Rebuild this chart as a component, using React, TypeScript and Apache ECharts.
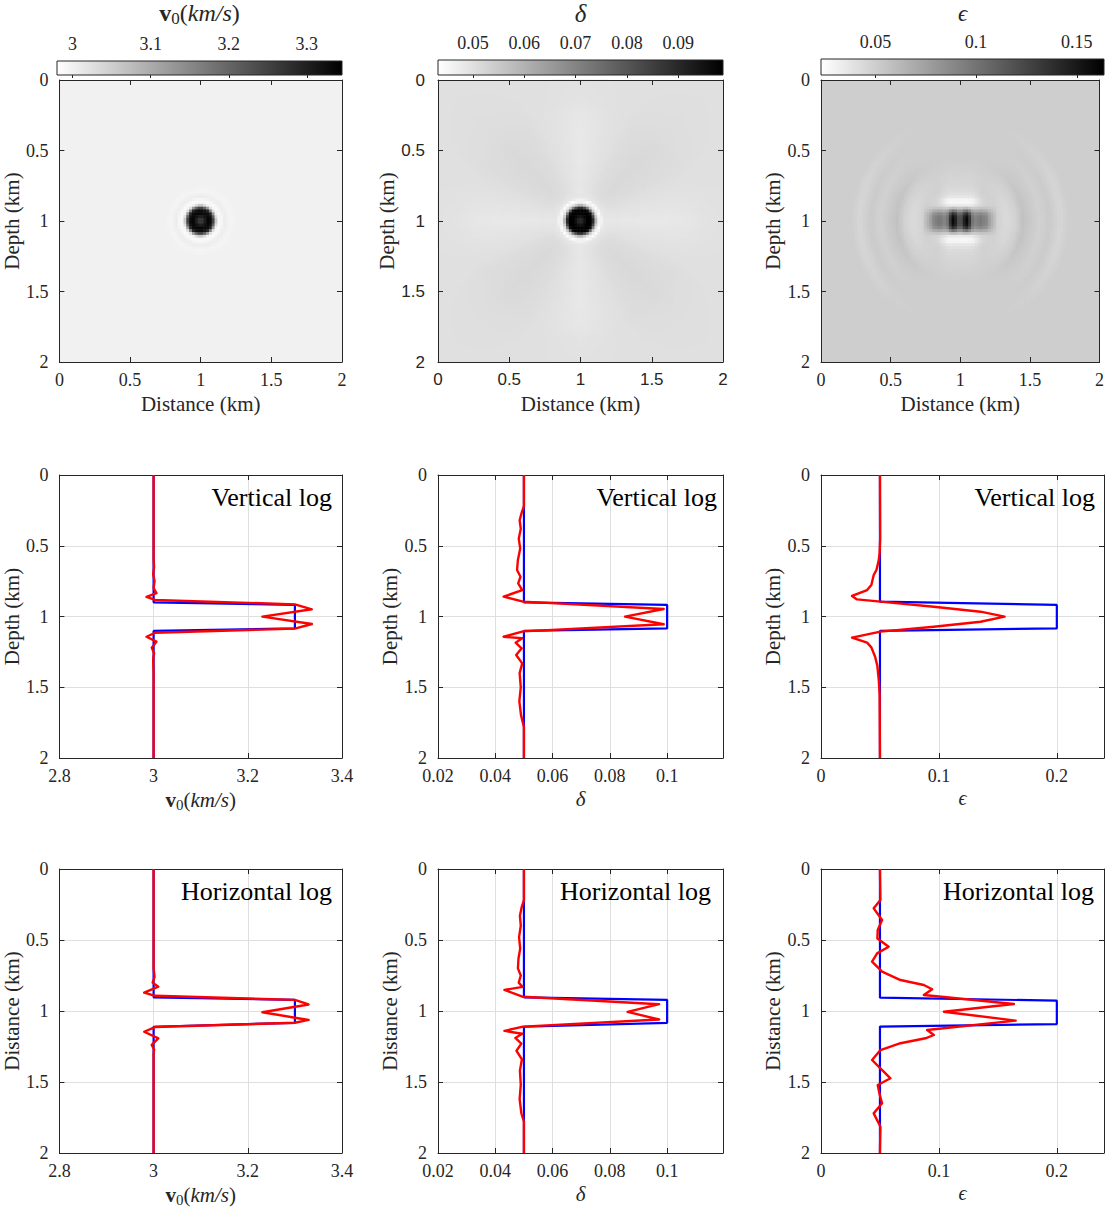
import React, { useEffect, useRef } from "react";
import * as echarts from "echarts";

const SERIF = "'Liberation Serif', 'DejaVu Serif', serif";
const SANS = "'Liberation Sans', Arial, sans-serif";
const INK = "#262626";
const GRID_LINE = "#dfdfdf";
const BLUE = "#0000ff";
const RED = "#ff0000";

// ---------- axis ranges ----------
const depthRange = [0, 2];
const depthInterval = 0.5;
const v0AxisRange = [2.8, 3.4];
const v0AxisInterval = 0.2;
const deltaAxisRange = [0.02, 0.1195];
const deltaAxisInterval = 0.02;
const epsAxisRange = [0, 0.24];
const epsAxisInterval = 0.1;

// ---------- colorbars ----------
const v0ColorRange = [2.98, 3.345];
const v0ColorTicks = [3, 3.1, 3.2, 3.3];
const deltaColorRange = [0.0432, 0.0987];
const deltaColorTicks = [0.05, 0.06, 0.07, 0.08, 0.09];
const epsColorRange = [0.023, 0.1635];
const epsColorTicks = [0.05, 0.1, 0.15];

// ---------- image models ----------
const IMG_CELL = 0.02;
const IMG_N = 100;
const IMG_CENTER = [1.0, 1.0];

// v0: radial profile
const v0ImgR = [0, 0.03, 0.05, 0.07, 0.085, 0.1, 0.117, 0.138, 0.17, 0.21, 0.26];
const v0ImgV = [3.24, 3.3, 3.336, 3.33, 3.3, 3.15, 3.0, 2.985, 3.006, 2.996, 3.0];
const v0Background = 3.0;

// delta: radial profile + angular cross / diagonal modulation
const deltaImgR = [0, 0.03, 0.05, 0.07, 0.085, 0.1, 0.117, 0.14, 0.16, 0.2, 0.26];
const deltaImgV = [0.087, 0.095, 0.0988, 0.099, 0.097, 0.075, 0.05, 0.0435, 0.0485, 0.0495, 0.05];
const deltaEnvR = [0, 0.15, 0.22, 0.35, 0.6, 0.75, 0.85, 1.0, 1.5];
const deltaEnvW = [0, 0, 0.8, 1, 1, 0.8, 0.4, 0.2, 0];
const deltaAngDeg = [0, 15, 30, 45];
const deltaAngV = [-0.0018, -0.0006, 0.0008, 0.0015];
const deltaBackground = 0.05;

// epsilon: horizontal band, white bands above/below, side arcs
const epsBandX = [0, 0.02, 0.045, 0.07, 0.09, 0.11, 0.15, 0.19, 0.22, 0.27];
const epsBandDev = [0.06, 0.085, 0.116, 0.085, 0.05, 0.042, 0.048, 0.04, 0.02, 0];
const epsBandZ = [0, 0.03, 0.05, 0.07, 0.1];
const epsBandZW = [1, 0.95, 0.8, 0.45, 0];
const epsRingZ = [0.08, 0.1, 0.125, 0.145, 0.165, 0.2, 0.25, 0.35, 0.45];
const epsRingDev = [0, -0.012, -0.022, -0.024, -0.015, -0.008, -0.005, -0.002, 0];
const epsRingX = [0, 0.08, 0.12, 0.16, 0.25];
const epsRingXW = [1, 1, 0.6, 0.2, 0];
const epsArcR = [0.25, 0.3, 0.34, 0.4, 0.45, 0.5, 0.57, 0.64, 0.72, 0.78, 0.85];
const epsArcDev = [0, -0.005, -0.007, -0.002, 0.007, 0.003, -0.002, 0.002, -0.005, 0, 0];
const epsArcAng = [0, 20, 40, 55, 70, 90];
const epsArcW = [1, 0.85, 0.45, 0.15, 0.03, 0];
const epsBackground = 0.05;

// ---------- logs: v0 ----------
const v0VertBlueDepth = [0, 0.9, 0.918, 1.084, 1.102, 2];
const v0VertBlueVal = [3.0, 3.0, 3.3, 3.3, 3.0, 3.0];
const v0VertRedDepth = [0, 0.6, 0.65, 0.7, 0.75, 0.8, 0.835, 0.862, 0.883, 0.914, 0.949, 1.001, 1.053, 1.086, 1.115, 1.143, 1.178, 1.22, 1.26, 1.3, 1.4, 2];
const v0VertRedVal = [3.0, 3.0, 3.001, 2.999, 3.002, 3.0, 3.006, 2.985, 3.003, 3.3, 3.336, 3.231, 3.336, 3.3, 3.003, 2.985, 3.006, 2.996, 3.001, 2.999, 3.0, 3.0];

const v0HorBlueDepth = [0, 0.904, 0.922, 1.083, 1.111, 2];
const v0HorBlueVal = [3.0, 3.0, 3.3, 3.3, 3.0, 3.0];
const v0HorRedDepth = [0, 0.7, 0.76, 0.8, 0.829, 0.871, 0.893, 0.922, 0.954, 1.009, 1.063, 1.083, 1.113, 1.146, 1.193, 1.239, 1.27, 1.3, 2];
const v0HorRedVal = [3.0, 3.0, 3.002, 2.998, 3.01, 2.98, 3.003, 3.3, 3.329, 3.231, 3.329, 3.3, 3.003, 2.98, 3.01, 2.996, 3.001, 3.0, 3.0];

// ---------- logs: delta ----------
const dVertBlueDepth = [0, 0.9, 0.918, 1.084, 1.102, 2];
const dVertBlueVal = [0.05, 0.05, 0.1, 0.1, 0.05, 0.05];
const dVertRedDepth = [0, 0.22, 0.26, 0.32, 0.38, 0.45, 0.52, 0.6, 0.671, 0.719, 0.766, 0.813, 0.86, 0.895, 0.947, 1.001, 1.055, 1.105, 1.143, 1.154, 1.185, 1.225, 1.272, 1.331, 1.4, 1.5, 1.6, 1.7, 1.78, 2];
const dVertRedVal = [0.05, 0.05, 0.0493, 0.0485, 0.0489, 0.0482, 0.0487, 0.0479, 0.0476, 0.0488, 0.048, 0.0494, 0.0429, 0.0497, 0.0988, 0.0853, 0.0988, 0.0497, 0.0429, 0.0494, 0.0471, 0.0492, 0.0473, 0.0494, 0.0485, 0.0489, 0.0484, 0.049, 0.05, 0.05];

const dHorBlueDepth = [0, 0.904, 0.922, 1.083, 1.111, 2];
const dHorBlueVal = [0.05, 0.05, 0.1, 0.1, 0.05, 0.05];
const dHorRedDepth = [0, 0.22, 0.27, 0.33, 0.4, 0.48, 0.56, 0.63, 0.7, 0.75, 0.8, 0.83, 0.852, 0.9, 0.952, 1.006, 1.06, 1.11, 1.14, 1.16, 1.19, 1.23, 1.28, 1.34, 1.42, 1.52, 1.62, 1.72, 1.78, 2];
const dHorRedVal = [0.05, 0.05, 0.0492, 0.0486, 0.0489, 0.0483, 0.0487, 0.0481, 0.0479, 0.0489, 0.0482, 0.0495, 0.0432, 0.0497, 0.0972, 0.0862, 0.0972, 0.0497, 0.0432, 0.0494, 0.047, 0.0491, 0.0474, 0.0493, 0.0486, 0.0489, 0.0485, 0.0491, 0.05, 0.05];

// ---------- logs: epsilon ----------
const eVertBlueDepth = [0, 0.895, 0.918, 1.084, 1.102, 2];
const eVertBlueVal = [0.05, 0.05, 0.2, 0.2, 0.05, 0.05];
const eVertRedDepth = [0, 0.45, 0.55, 0.601, 0.671, 0.707, 0.777, 0.813, 0.855, 0.879, 0.895, 0.931, 0.966, 1.001, 1.037, 1.072, 1.107, 1.149, 1.185, 1.218, 1.284, 1.35, 1.449, 1.55, 2];
const eVertRedVal = [0.05, 0.0502, 0.0497, 0.049, 0.047, 0.0447, 0.0427, 0.0391, 0.0263, 0.0306, 0.0504, 0.0957, 0.1353, 0.1557, 0.1353, 0.0957, 0.0504, 0.0263, 0.0391, 0.0427, 0.0459, 0.0478, 0.049, 0.0497, 0.05];

const eHorBlueDepth = [0, 0.906, 0.927, 1.092, 1.11, 2];
const eHorBlueVal = [0.05, 0.05, 0.2, 0.2, 0.05, 0.05];
const eHorRedDepth = [0, 0.218, 0.277, 0.359, 0.43, 0.49, 0.547, 0.594, 0.653, 0.723, 0.782, 0.817, 0.847, 0.887, 0.951, 1.005, 1.068, 1.134, 1.169, 1.192, 1.227, 1.275, 1.345, 1.404, 1.474, 1.521, 1.58, 1.65, 1.721, 1.815, 2];
const eHorRedVal = [0.05, 0.0504, 0.0447, 0.0518, 0.0481, 0.0478, 0.0574, 0.0476, 0.0433, 0.0518, 0.0674, 0.0872, 0.0943, 0.0872, 0.1636, 0.1042, 0.1651, 0.09, 0.0957, 0.0886, 0.0674, 0.0504, 0.0433, 0.0504, 0.0589, 0.0481, 0.0495, 0.0518, 0.0447, 0.0504, 0.05];

// ---------- layout ----------
const COLS = [
  { left: 57, width: 285 },
  { left: 438, width: 285 },
  { left: 821, width: 283 },
];
const ROW_IMG = { top: 80, height: 282 };
const ROW_V = { top: 475, height: 283 };
const ROW_H = { top: 869, height: 284 };
const CBAR = { top: 59, height: 16 };

// ---------- helpers ----------
function interp(xs: number[], ys: number[], x: number): number {
  if (x <= xs[0]) return ys[0];
  const n = xs.length;
  if (x >= xs[n - 1]) return ys[n - 1];
  for (let i = 1; i < n; i++) {
    if (x <= xs[i]) {
      const t = (x - xs[i - 1]) / (xs[i] - xs[i - 1]);
      return ys[i - 1] + t * (ys[i] - ys[i - 1]);
    }
  }
  return ys[n - 1];
}
function grayOf(v: number, r: number[]): string {
  const t = Math.min(1, Math.max(0, (v - r[0]) / (r[1] - r[0])));
  const g = Math.round(255 * (1 - t));
  return `rgb(${g},${g},${g})`;
}
const pairs = (vals: number[], depths: number[]) => vals.map((v, i) => [v, depths[i]]);

function v0Field(x: number, z: number): number {
  const r = Math.hypot(x - IMG_CENTER[0], z - IMG_CENTER[1]);
  return interp(v0ImgR, v0ImgV, r);
}
function deltaField(x: number, z: number): number {
  const dx = Math.abs(x - IMG_CENTER[0]);
  const dz = Math.abs(z - IMG_CENTER[1]);
  const r = Math.hypot(dx, dz);
  let a = (Math.atan2(dz, dx) * 180) / Math.PI;
  if (a > 45) a = 90 - a;
  return interp(deltaImgR, deltaImgV, r) + interp(deltaEnvR, deltaEnvW, r) * interp(deltaAngDeg, deltaAngV, a);
}
function epsField(x: number, z: number): number {
  const dx = Math.abs(x - IMG_CENTER[0]);
  const dz = Math.abs(z - IMG_CENTER[1]);
  const r = Math.hypot(dx, dz);
  const a = (Math.atan2(dz, dx) * 180) / Math.PI;
  return (
    epsBackground +
    interp(epsBandX, epsBandDev, dx) * interp(epsBandZ, epsBandZW, dz) +
    interp(epsRingZ, epsRingDev, dz) * interp(epsRingX, epsRingXW, dx) +
    interp(epsArcR, epsArcDev, r) * interp(epsArcAng, epsArcW, a)
  );
}

const v0Rich = (size: number) => ({
  b: { fontFamily: SERIF, fontWeight: "bold", fontSize: size, color: INK },
  s: { fontFamily: SERIF, fontSize: Math.round(size * 0.7), padding: [Math.round(size * 0.45), 0, 0, 0], color: INK },
  n: { fontFamily: SERIF, fontSize: size, color: INK },
  i: { fontFamily: SERIF, fontStyle: "italic", fontSize: size, color: INK },
});
const V0_NAME = "{b|v}{s|0}{n|(}{i|km/s}{n|)}";

const TICK_SIZE = 18;
const NAME_SIZE = 21;

function buildOption() {
  const grid: any[] = [];
  const xAxis: any[] = [];
  const yAxis: any[] = [];
  const series: any[] = [];
  const visualMap: any[] = [];
  const graphic: any[] = [];
  const addGrid = (g: any) => (grid.push(g), grid.length - 1);
  const addX = (a: any) => (xAxis.push(a), xAxis.length - 1);
  const addY = (a: any) => (yAxis.push(a), yAxis.length - 1);

  const valAxis = (
    gridIndex: number,
    position: string,
    range: number[],
    interval: number,
    o: { labels?: boolean; split?: boolean; inverse?: boolean; font?: string; fontSize?: number; name?: string; nameGap?: number; nameStyle?: any; z?: number; hideMax?: boolean; margin?: number }
  ) => ({
    type: "value",
    gridIndex,
    position,
    min: range[0],
    max: range[1],
    interval,
    inverse: !!o.inverse,
    z: o.z ?? 0,
    axisLine: { show: true, onZero: false, lineStyle: { color: INK, width: 1 } },
    axisTick: { show: true, inside: true, length: 5, lineStyle: { color: INK, width: 1 } },
    axisLabel: {
      show: !!o.labels,
      fontFamily: o.font || SERIF,
      fontSize: o.fontSize ?? TICK_SIZE,
      color: INK,
      margin: o.margin ?? 9,
      showMaxLabel: o.hideMax ? false : true,
    },
    splitLine: { show: !!o.split, lineStyle: { color: GRID_LINE, width: 1 } },
    name: o.name,
    nameLocation: "middle",
    nameGap: o.nameGap ?? 32,
    nameTextStyle: o.nameStyle || { fontFamily: SERIF, fontSize: NAME_SIZE, color: INK },
  });

  // ---------- top row: images ----------
  const cellIdx = Array.from({ length: IMG_N }, (_, i) => String(i));
  const images = [
    { col: 0, field: v0Field, range: v0ColorRange, bg: v0Background, font: SERIF, fs: TICK_SIZE },
    { col: 1, field: deltaField, range: deltaColorRange, bg: deltaBackground, font: SANS, fs: 17 },
    { col: 2, field: epsField, range: epsColorRange, bg: epsBackground, font: SERIF, fs: TICK_SIZE },
  ];
  images.forEach((im) => {
    const c = COLS[im.col];
    const g = addGrid({
      left: c.left,
      top: ROW_IMG.top,
      width: c.width,
      height: ROW_IMG.height,
      show: true,
      backgroundColor: grayOf(im.bg, im.range),
      borderWidth: 0,
    });
    addX(valAxis(g, "bottom", depthRange, depthInterval, { labels: true, font: im.font, fontSize: im.fs, name: "Distance (km)", nameGap: 31, z: 5 }));
    addX(valAxis(g, "top", depthRange, depthInterval, { z: 5 }));
    const catX = addX({ type: "category", gridIndex: g, data: cellIdx, show: false });
    addY(valAxis(g, "left", depthRange, depthInterval, { labels: true, inverse: true, font: im.font, fontSize: im.fs, name: "Depth (km)", nameGap: 36, z: 5, margin: im.col === 1 ? 13 : 11 }));
    addY(valAxis(g, "right", depthRange, depthInterval, { inverse: true, z: 5 }));
    const catY = addY({ type: "category", gridIndex: g, data: cellIdx, show: false, inverse: true });

    const thr = (im.range[1] - im.range[0]) * 0.003;
    const data: number[][] = [];
    for (let i = 0; i < IMG_N; i++) {
      for (let j = 0; j < IMG_N; j++) {
        const x = (i + 0.5) * IMG_CELL;
        const z = (j + 0.5) * IMG_CELL;
        let v = im.field(x, z);
        v = Math.min(im.range[1], Math.max(im.range[0], v));
        if (Math.abs(v - im.bg) > thr) data.push([i, j, v]);
      }
    }
    series.push({
      type: "heatmap",
      xAxisIndex: catX,
      yAxisIndex: catY,
      data,
      progressive: 0,
      silent: true,
      emphasis: { disabled: true },
      itemStyle: { borderWidth: 0 },
    });
    visualMap.push({
      type: "continuous",
      show: false,
      seriesIndex: series.length - 1,
      dimension: 2,
      min: im.range[0],
      max: im.range[1],
      inRange: { color: ["#ffffff", "#000000"] },
    });
  });

  // ---------- colorbars ----------
  const bars = [
    { col: 0, range: v0ColorRange, ticks: v0ColorTicks, name: V0_NAME, style: { rich: v0Rich(24) } },
    { col: 1, range: deltaColorRange, ticks: deltaColorTicks, name: "δ", style: { fontFamily: SERIF, fontStyle: "italic", fontSize: 25, color: INK } },
    { col: 2, range: epsColorRange, ticks: epsColorTicks, name: "ϵ", style: { fontFamily: SERIF, fontStyle: "italic", fontSize: 23, color: INK } },
  ];
  bars.forEach((b) => {
    const c = COLS[b.col];
    const g = addGrid({
      left: c.left,
      top: CBAR.top,
      width: c.width,
      height: CBAR.height,
      show: true,
      borderColor: INK,
      borderWidth: 1,
      backgroundColor: new echarts.graphic.LinearGradient(0, 0, 1, 0, [
        { offset: 0, color: "#ffffff" },
        { offset: 1, color: "#000000" },
      ]),
    });
    addX({
      type: "value",
      gridIndex: g,
      position: "top",
      min: b.range[0],
      max: b.range[1],
      axisLine: { show: false },
      axisTick: { show: true, inside: true, length: 3, customValues: b.ticks, lineStyle: { color: INK } },
      axisLabel: { customValues: b.ticks, fontFamily: SERIF, fontSize: TICK_SIZE, color: INK, margin: 8 },
      splitLine: { show: false },
      name: b.name,
      nameLocation: "middle",
      nameGap: 34,
      nameTextStyle: b.style,
    });
    addY({ type: "value", gridIndex: g, show: false, min: 0, max: 1 });
  });

  // ---------- logs ----------
  const deltaStyle = { fontFamily: SERIF, fontStyle: "italic", fontSize: 21, color: INK };
  const epsStyle = { fontFamily: SERIF, fontStyle: "italic", fontSize: 20, color: INK };
  const logs = [
    { col: 0, row: ROW_V, xr: v0AxisRange, xi: v0AxisInterval, xname: V0_NAME, xstyle: { rich: v0Rich(21) }, yname: "Depth (km)", blue: pairs(v0VertBlueVal, v0VertBlueDepth), red: pairs(v0VertRedVal, v0VertRedDepth), label: "Vertical log", lx: 332, hideMax: false },
    { col: 1, row: ROW_V, xr: deltaAxisRange, xi: deltaAxisInterval, xname: "δ", xstyle: deltaStyle, yname: "Depth (km)", blue: pairs(dVertBlueVal, dVertBlueDepth), red: pairs(dVertRedVal, dVertRedDepth), label: "Vertical log", lx: 717, hideMax: true },
    { col: 2, row: ROW_V, xr: epsAxisRange, xi: epsAxisInterval, xname: "ϵ", xstyle: epsStyle, yname: "Depth (km)", blue: pairs(eVertBlueVal, eVertBlueDepth), red: pairs(eVertRedVal, eVertRedDepth), label: "Vertical log", lx: 1095, hideMax: true },
    { col: 0, row: ROW_H, xr: v0AxisRange, xi: v0AxisInterval, xname: V0_NAME, xstyle: { rich: v0Rich(21) }, yname: "Distance (km)", blue: pairs(v0HorBlueVal, v0HorBlueDepth), red: pairs(v0HorRedVal, v0HorRedDepth), label: "Horizontal log", lx: 332, hideMax: false },
    { col: 1, row: ROW_H, xr: deltaAxisRange, xi: deltaAxisInterval, xname: "δ", xstyle: deltaStyle, yname: "Distance (km)", blue: pairs(dHorBlueVal, dHorBlueDepth), red: pairs(dHorRedVal, dHorRedDepth), label: "Horizontal log", lx: 711, hideMax: true },
    { col: 2, row: ROW_H, xr: epsAxisRange, xi: epsAxisInterval, xname: "ϵ", xstyle: epsStyle, yname: "Distance (km)", blue: pairs(eHorBlueVal, eHorBlueDepth), red: pairs(eHorRedVal, eHorRedDepth), label: "Horizontal log", lx: 1094, hideMax: true },
  ];
  logs.forEach((p) => {
    const c = COLS[p.col];
    const g = addGrid({ left: c.left, top: p.row.top, width: c.width, height: p.row.height, show: false });
    const xb = addX(valAxis(g, "bottom", p.xr, p.xi, { labels: true, split: true, name: p.xname, nameGap: 30, nameStyle: p.xstyle, hideMax: p.hideMax }));
    addX(valAxis(g, "top", p.xr, p.xi, {}));
    const yl = addY(valAxis(g, "left", depthRange, depthInterval, { labels: true, split: true, inverse: true, name: p.yname, nameGap: 36, margin: 11 }));
    addY(valAxis(g, "right", depthRange, depthInterval, { inverse: true }));
    series.push({
      type: "line",
      xAxisIndex: xb,
      yAxisIndex: yl,
      data: p.blue,
      symbol: "none",
      silent: true,
      z: 3,
      lineStyle: { color: BLUE, width: 2.2 },
    });
    series.push({
      type: "line",
      xAxisIndex: xb,
      yAxisIndex: yl,
      data: p.red,
      symbol: "none",
      silent: true,
      z: 4,
      lineStyle: { color: RED, width: 2.4, join: "round" },
    });
    graphic.push({
      type: "text",
      x: p.lx,
      y: p.row.top + 22,
      z: 10,
      style: { text: p.label, align: "right", verticalAlign: "middle", fontFamily: SERIF, fontSize: 26, fill: "#000" },
    });
  });

  return { animation: false, backgroundColor: "#ffffff", grid, xAxis, yAxis, series, visualMap, graphic };
}

export default function App() {
  const ref = useRef<HTMLDivElement>(null);
  useEffect(() => {
    if (!ref.current) return;
    const chart = echarts.init(ref.current, null, { renderer: "svg" });
    chart.setOption(buildOption() as any);
    return () => chart.dispose();
  }, []);
  return <div ref={ref} style={{ position: "absolute", left: 0, top: 0, width: 1107, height: 1209 }} />;
}
